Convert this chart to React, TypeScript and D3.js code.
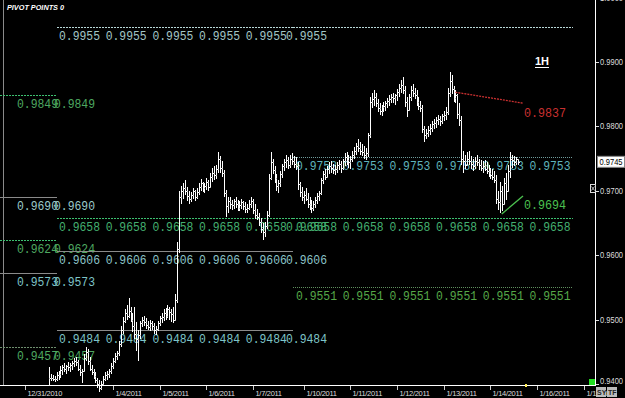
import React from 'react';
import * as d3 from 'd3';

// ---- hourly bars (index 0 = 1/4/2011 00:00) ----
const FIRST_BAR = -33;
const highs = [
  0.9426,0.9415,0.9414,0.9412,0.9418,0.9420,0.9428,0.9430,0.9432,0.9430,
  0.9434,0.9432,0.9436,0.9440,0.9442,0.9438,0.9430,0.9424,0.9446,0.9458,
  0.9454,0.9442,0.9430,0.9424,0.9418,0.9410,0.9406,0.9404,0.9412,0.9418,
  0.9420,0.9424,0.9432,0.9440,0.9448,0.9452,0.9466,0.9490,0.9504,0.9516,
  0.9522,0.9534,0.9520,0.9510,0.9520,0.9496,0.9484,0.9498,0.9504,0.9506,
  0.9502,0.9498,0.9500,0.9498,0.9494,0.9490,0.9498,0.9506,0.9510,0.9516,
  0.9518,0.9522,0.9520,0.9516,0.9520,0.9540,0.9620,0.9700,0.9708,0.9712,
  0.9716,0.9706,0.9700,0.9698,0.9704,0.9702,0.9704,0.9712,0.9718,0.9714,
  0.9712,0.9720,0.9716,0.9728,0.9736,0.9738,0.9740,0.9760,0.9754,0.9746,
  0.9732,0.9702,0.9690,0.9690,0.9686,0.9688,0.9690,0.9686,0.9684,0.9688,
  0.9684,0.9682,0.9680,0.9686,0.9690,0.9688,0.9680,0.9672,0.9666,0.9658,
  0.9650,0.9652,0.9668,0.9726,0.9760,0.9750,0.9738,0.9726,0.9716,0.9730,
  0.9742,0.9750,0.9756,0.9752,0.9756,0.9758,0.9754,0.9752,0.9744,0.9714,
  0.9706,0.9700,0.9704,0.9696,0.9690,0.9686,0.9684,0.9690,0.9696,0.9700,
  0.9720,0.9730,0.9734,0.9738,0.9744,0.9746,0.9742,0.9740,0.9744,0.9748,
  0.9746,0.9750,0.9758,0.9760,0.9756,0.9754,0.9762,0.9768,0.9774,0.9780,
  0.9776,0.9772,0.9770,0.9766,0.9790,0.9846,0.9852,0.9856,0.9852,0.9842,
  0.9836,0.9834,0.9838,0.9840,0.9844,0.9848,0.9850,0.9852,0.9850,0.9858,
  0.9866,0.9872,0.9876,0.9862,0.9846,0.9850,0.9862,0.9866,0.9860,0.9856,
  0.9846,0.9840,0.9834,0.9800,0.9796,0.9800,0.9804,0.9808,0.9812,0.9814,
  0.9818,0.9816,0.9820,0.9824,0.9830,0.9860,0.9884,0.9880,0.9862,0.9856,
  0.9850,0.9836,0.9816,0.9762,0.9756,0.9760,0.9762,0.9754,0.9750,0.9752,
  0.9756,0.9750,0.9748,0.9746,0.9748,0.9744,0.9740,0.9736,0.9734,0.9730,
  0.9724,0.9700,0.9714,0.9708,0.9720,0.9728,0.9740,0.9760,0.9756,0.9754,
  0.9752,0.9750,
];
const lows = [
  0.9398,0.9405,0.9404,0.9403,0.9404,0.9406,0.9410,0.9414,0.9418,0.9416,
  0.9420,0.9418,0.9422,0.9426,0.9428,0.9420,0.9412,0.9402,0.9418,0.9436,
  0.9430,0.9420,0.9414,0.9408,0.9402,0.9394,0.9388,0.9390,0.9398,0.9404,
  0.9406,0.9410,0.9416,0.9424,0.9432,0.9438,0.9444,0.9458,0.9478,0.9494,
  0.9500,0.9502,0.9496,0.9480,0.9470,0.9452,0.9436,0.9470,0.9488,0.9490,
  0.9486,0.9484,0.9482,0.9484,0.9478,0.9476,0.9482,0.9490,0.9494,0.9498,
  0.9500,0.9502,0.9500,0.9496,0.9494,0.9498,0.9526,0.9604,0.9680,0.9688,
  0.9694,0.9684,0.9680,0.9682,0.9688,0.9684,0.9688,0.9694,0.9700,0.9698,
  0.9696,0.9702,0.9700,0.9704,0.9714,0.9716,0.9718,0.9728,0.9728,0.9722,
  0.9690,0.9660,0.9666,0.9672,0.9670,0.9672,0.9674,0.9668,0.9668,0.9672,
  0.9670,0.9666,0.9666,0.9670,0.9674,0.9664,0.9656,0.9654,0.9646,0.9634,
  0.9624,0.9628,0.9640,0.9660,0.9716,0.9726,0.9712,0.9700,0.9696,0.9706,
  0.9720,0.9730,0.9736,0.9734,0.9736,0.9740,0.9736,0.9732,0.9702,0.9690,
  0.9684,0.9680,0.9684,0.9674,0.9670,0.9666,0.9668,0.9674,0.9680,0.9684,
  0.9694,0.9710,0.9716,0.9720,0.9726,0.9728,0.9726,0.9724,0.9728,0.9732,
  0.9728,0.9732,0.9738,0.9740,0.9736,0.9734,0.9744,0.9750,0.9756,0.9760,
  0.9756,0.9754,0.9750,0.9748,0.9752,0.9782,0.9828,0.9832,0.9830,0.9822,
  0.9818,0.9816,0.9822,0.9824,0.9828,0.9832,0.9836,0.9836,0.9834,0.9840,
  0.9846,0.9852,0.9850,0.9830,0.9815,0.9824,0.9840,0.9846,0.9842,0.9832,
  0.9826,0.9822,0.9790,0.9776,0.9780,0.9784,0.9786,0.9792,0.9796,0.9798,
  0.9802,0.9800,0.9804,0.9808,0.9810,0.9818,0.9846,0.9850,0.9838,0.9836,
  0.9812,0.9800,0.9740,0.9728,0.9734,0.9738,0.9740,0.9734,0.9730,0.9734,
  0.9738,0.9732,0.9730,0.9728,0.9730,0.9726,0.9722,0.9718,0.9716,0.9712,
  0.9680,0.9670,0.9666,0.9668,0.9680,0.9686,0.9698,0.9720,0.9736,0.9738,
  0.9740,0.9740,
];
const closes = [
  0.9410,0.9410,0.9408,0.9407,0.9414,0.9416,0.9422,0.9426,0.9424,0.9428,
  0.9426,0.9430,0.9432,0.9436,0.9434,0.9424,0.9418,0.9420,0.9440,0.9450,
  0.9436,0.9424,0.9418,0.9412,0.9406,0.9400,0.9394,0.9400,0.9408,0.9414,
  0.9416,0.9420,0.9428,0.9436,0.9444,0.9448,0.9462,0.9484,0.9498,0.9510,
  0.9506,0.9514,0.9500,0.9490,0.9478,0.9470,0.9476,0.9494,0.9500,0.9496,
  0.9492,0.9488,0.9494,0.9490,0.9484,0.9486,0.9494,0.9502,0.9504,0.9510,
  0.9506,0.9516,0.9512,0.9508,0.9500,0.9530,0.9610,0.9690,0.9700,0.9704,
  0.9700,0.9692,0.9688,0.9694,0.9700,0.9690,0.9698,0.9706,0.9712,0.9704,
  0.9708,0.9714,0.9706,0.9722,0.9728,0.9724,0.9734,0.9750,0.9736,0.9728,
  0.9696,0.9676,0.9684,0.9680,0.9678,0.9684,0.9680,0.9674,0.9678,0.9682,
  0.9676,0.9672,0.9674,0.9680,0.9684,0.9670,0.9662,0.9660,0.9652,0.9640,
  0.9636,0.9646,0.9662,0.9720,0.9744,0.9732,0.9720,0.9708,0.9712,0.9726,
  0.9738,0.9744,0.9748,0.9740,0.9750,0.9746,0.9742,0.9738,0.9710,0.9698,
  0.9690,0.9694,0.9688,0.9680,0.9676,0.9674,0.9680,0.9686,0.9692,0.9696,
  0.9716,0.9726,0.9722,0.9734,0.9738,0.9736,0.9732,0.9734,0.9740,0.9742,
  0.9736,0.9746,0.9752,0.9748,0.9744,0.9750,0.9756,0.9762,0.9770,0.9766,
  0.9762,0.9760,0.9756,0.9758,0.9786,0.9838,0.9842,0.9846,0.9836,0.9828,
  0.9824,0.9830,0.9832,0.9836,0.9840,0.9842,0.9846,0.9844,0.9848,0.9854,
  0.9860,0.9864,0.9856,0.9838,0.9826,0.9846,0.9856,0.9852,0.9848,0.9838,
  0.9832,0.9828,0.9796,0.9786,0.9790,0.9794,0.9798,0.9804,0.9806,0.9810,
  0.9812,0.9808,0.9816,0.9818,0.9822,0.9852,0.9870,0.9858,0.9844,0.9848,
  0.9820,0.9810,0.9750,0.9746,0.9740,0.9750,0.9746,0.9742,0.9738,0.9746,
  0.9744,0.9740,0.9736,0.9738,0.9734,0.9730,0.9728,0.9724,0.9722,0.9716,
  0.9688,0.9682,0.9700,0.9680,0.9712,0.9700,0.9730,0.9750,0.9748,0.9744,
  0.9750,0.9745,
];

// ---- axes ----
const dateLabels = ['12/31/2010','1/4/2011','1/5/2011','1/6/2011','1/7/2011','1/10/2011','1/11/2011','1/12/2011','1/13/2011','1/14/2011','1/16/2011','1/17/2011'];
const dateBars = [-45, 0, 24, 48, 72, 98, 122, 146, 170, 194, 218, 242];
const priceTicks = [0.94, 0.95, 0.96, 0.97, 0.98, 0.99, 1.0];
const lastPrice = 0.9745;

// ---- pivot levels ----
const leftPeriodLevels = [0.9955, 0.9658, 0.9606, 0.9484];
const rightPeriodLevels = [0.9753, 0.9658, 0.9551];
const rightLineOnlyLevels = [0.9955];
const prevPeriodLevels = [0.9849, 0.9690, 0.9624, 0.9573, 0.9457];

// ---- trend lines ----
const redTrend = { fromBar: 176, fromPrice: 0.9853, toBar: 211, toPrice: 0.9836, label: '0.9837' };
const greenTrend = { fromBar: 199.8, fromPrice: 0.9664, toBar: 210.7, toPrice: 0.9692, label: '0.9694' };

const levelColor: Record<string, string> = {
  '0.9955': '#a3c6c6', '0.9753': '#5fb4bc', '0.9658': '#44b070', '0.9606': '#8cc4c8',
  '0.9551': '#56a848', '0.9484': '#7ec4c8', '0.9849': '#4ea860', '0.9690': '#9ccaca',
  '0.9624': '#4ea860', '0.9573': '#7ec4c8', '0.9457': '#4ea860',
};
const lineStyle: Record<string, { stroke: string; dash?: string }> = {
  '0.9955': { stroke: '#b8d8d8', dash: '2,1' },
  '0.9753': { stroke: '#6f9c9c', dash: '1,1' },
  '0.9658': { stroke: '#3cc070', dash: '2,1' },
  '0.9606': { stroke: '#8a8a8a' },
  '0.9551': { stroke: '#5f8f5f', dash: '1,1' },
  '0.9484': { stroke: '#8a8a8a' },
  '0.9849': { stroke: '#3cc070', dash: '2,1' },
  '0.9690': { stroke: '#8a8a8a' },
  '0.9624': { stroke: '#3cc070', dash: '2,1' },
  '0.9573': { stroke: '#8a8a8a' },
  '0.9457': { stroke: '#6f8f6f', dash: '2,1' },
};

const LABEL_FONT = "'Liberation Mono', 'DejaVu Sans Mono', monospace";
const AXIS_FONT = "'Liberation Sans', Arial, sans-serif";

export default function App() {
  const W = 625, H = 398;
  const x = d3.scaleLinear().domain([0, 24]).range([113, 159.7]);
  const y = d3.scaleLinear().domain([0.94, 0.99]).range([384, 62]);
  const px = (i: number) => Math.round(x(i)) + 0.5;

  const bars = highs.map((h, k) => ({ i: FIRST_BAR + k, h, l: lows[k], c: closes[k], o: k > 0 ? closes[k - 1] : closes[k] }));

  const leftStart = x.invert(57), split = x.invert(293), rightEnd = x.invert(573);
  const leftLabelBars = [0, 1, 2, 3, 4].map((k) => x.invert(59) + k * 24).concat([x.invert(286)]);
  const rightLabelBars = [0, 1, 2, 3, 4, 5].map((k) => x.invert(296) + k * 24);

  const label = (lv: number, xx: number, key: string) => (
    <text key={key} x={xx} y={y(lv) + 13} fill={levelColor[lv.toFixed(4)]} fontFamily={LABEL_FONT}
      fontSize={13} textLength={41} lengthAdjust="spacingAndGlyphs">{lv.toFixed(4)}</text>
  );
  const hline = (lv: number, x1: number, x2: number, key: string) => {
    const st = lineStyle[lv.toFixed(4)];
    const yy = Math.round(y(lv)) + 0.5;
    return <line key={key} x1={x1} x2={x2} y1={yy} y2={yy} stroke={st.stroke} strokeDasharray={st.dash} strokeWidth={1} shapeRendering="crispEdges" />;
  };

  return (
    <svg width={W} height={H} style={{ position: 'absolute', left: 0, top: 0, display: 'block', background: '#000' }}>
      <rect x={0} y={0} width={W} height={H} fill="#000" />
      {/* left border */}
      <line x1={3.5} x2={3.5} y1={0} y2={385} stroke="#8a8a8a" strokeWidth={1} />
      <text x={7} y={10} fill="#fff" fontFamily={AXIS_FONT} fontSize={8} fontWeight="bold" fontStyle="italic" textLength={57} lengthAdjust="spacingAndGlyphs">PIVOT POINTS 0</text>

      {/* previous-period short levels */}
      {prevPeriodLevels.map((lv) => (
        <g key={'p' + lv}>
          {hline(lv, 0, x(leftStart), 'pl')}
          {label(lv, 17, 'a')}
          {label(lv, 54, 'b')}
        </g>
      ))}
      {/* left-period levels */}
      {leftPeriodLevels.map((lv) => (
        <g key={'l' + lv}>
          {hline(lv, x(leftStart), x(split), 'll')}
          {leftLabelBars.map((b, k) => label(lv, x(b), 't' + k))}
        </g>
      ))}
      {/* right-period levels */}
      {rightLineOnlyLevels.map((lv) => hline(lv, x(split), x(rightEnd), 'ro' + lv))}
      {rightPeriodLevels.map((lv) => (
        <g key={'r' + lv}>
          {hline(lv, x(split), x(rightEnd), 'rl')}
          {rightLabelBars.map((b, k) => label(lv, x(b), 't' + k))}
        </g>
      ))}

      {/* price bars (OHLC) */}
      <g stroke="#fff" strokeWidth={1} shapeRendering="crispEdges">
        {bars.map((b) => {
          const xx = px(b.i);
          const yh = Math.round(y(b.h)), yl = Math.max(Math.round(y(b.l)), yh + 2);
          const yc = Math.round(y(b.c)) + 0.5;
          const yo = Math.round(y(b.o)) + 0.5;
          return (
            <g key={b.i}>
              <line x1={xx} x2={xx} y1={yh} y2={yl} />
              <line x1={xx - 1} x2={xx} y1={yo} y2={yo} stroke="#bbb" />
              <line x1={xx} x2={xx + 1} y1={yc} y2={yc} />
            </g>
          );
        })}
      </g>

      {/* trend lines */}
      <line x1={x(redTrend.fromBar)} y1={y(redTrend.fromPrice)} x2={x(redTrend.toBar)} y2={y(redTrend.toPrice)}
        stroke="#c83030" strokeWidth={1.3} strokeDasharray="2,1" />
      <text x={524} y={y(redTrend.toPrice) + 14} fill="#c83030" fontFamily={LABEL_FONT} fontSize={13} textLength={42} lengthAdjust="spacingAndGlyphs">{redTrend.label}</text>
      <line x1={x(greenTrend.fromBar)} y1={y(greenTrend.fromPrice)} x2={x(greenTrend.toBar)} y2={y(greenTrend.toPrice)}
        stroke="#4cc050" strokeWidth={1.3} />
      <text x={524} y={y(greenTrend.toPrice) + 13} fill="#4cc050" fontFamily={LABEL_FONT} fontSize={13} textLength={42} lengthAdjust="spacingAndGlyphs">{greenTrend.label}</text>

      {/* 1H */}
      <text x={535} y={65} fill="#fff" fontFamily={AXIS_FONT} fontSize={11} fontWeight="bold">1H</text>
      <line x1={535} x2={549} y1={67.5} y2={67.5} stroke="#fff" strokeWidth={1} />

      {/* right axis */}
      <line x1={595.5} x2={595.5} y1={0} y2={385} stroke="#fff" strokeWidth={1} />
      {priceTicks.map((p) => (
        <g key={p}>
          <line x1={596} x2={599} y1={Math.round(y(p)) + 0.5} y2={Math.round(y(p)) + 0.5} stroke="#ddd" />
          <text x={600} y={Math.min(y(p), 381) + 3} fill="#ddd" fontFamily={AXIS_FONT} fontSize={8.5} textLength={23} lengthAdjust="spacingAndGlyphs">{p.toFixed(4)}</text>
        </g>
      ))}
      <rect x={597.5} y={y(lastPrice) - 5.5} width={27} height={11} fill="#fff" stroke="#888" />
      <text x={599.5} y={y(lastPrice) + 3} fill="#000" fontFamily={AXIS_FONT} fontSize={8.5} textLength={23} lengthAdjust="spacingAndGlyphs">{lastPrice.toFixed(4)}</text>
      <rect x={590.5} y={184.5} width={5} height={8} fill="#000" stroke="#ddd" />
      <path d="M591.5,186.5 L594.5,190.5 M594.5,186.5 L591.5,190.5" stroke="#ddd" strokeWidth={0.8} />

      {/* bottom axis */}
      <line x1={0} x2={596} y1={385.5} y2={385.5} stroke="#fff" strokeWidth={1} />
      {dateLabels.map((d, k) => {
        const xx = px(dateBars[k]);
        return (
          <g key={d}>
            <line x1={xx} x2={xx} y1={386} y2={390} stroke="#ccc" />
            <text x={xx + 2} y={396} fill="#ddd" fontFamily={AXIS_FONT} fontSize={7.5} letterSpacing={-0.3}>{d}</text>
          </g>
        );
      })}
      <rect x={589} y={379} width={6} height={6} fill="#22dd22" />
      <rect x={525} y={384} width={2} height={3} fill="#ffee55" />
      <rect x={596} y={387} width={10} height={10} fill="#bbb" />
      <text x={597} y={395} fill="#222" fontFamily={AXIS_FONT} fontSize={7} fontWeight="bold">SY</text>
      <rect x={607} y={387} width={10} height={10} fill="#bbb" />
      <text x={608} y={395} fill="#222" fontFamily={AXIS_FONT} fontSize={7} fontWeight="bold">TF</text>
    </svg>
  );
}
